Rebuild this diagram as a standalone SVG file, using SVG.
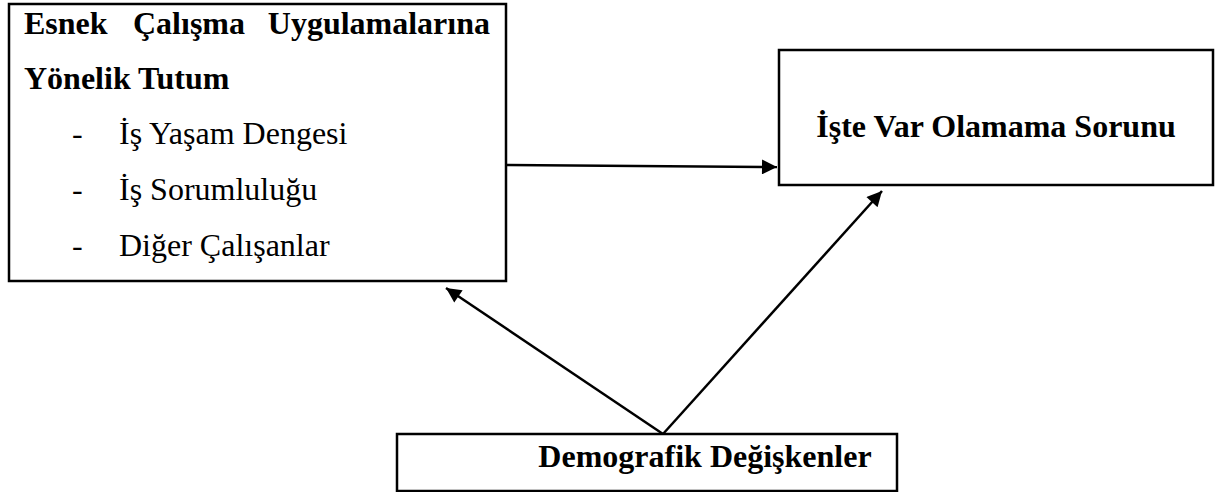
<svg xmlns="http://www.w3.org/2000/svg" width="1224" height="492" viewBox="0 0 1224 492">
<style>
.box{fill:#fff;stroke:#000;stroke-width:2.5}
.b{font-family:"Liberation Serif","Times New Roman",serif;font-weight:bold;font-size:32px;fill:#000}
.r{font-family:"Liberation Serif","Times New Roman",serif;font-size:32px;fill:#000}
.c{stroke:#000;stroke-width:2.5;fill:none}
</style>
<defs>
<marker id="ah" viewBox="0 0 10 10" refX="10" refY="5" markerWidth="7" markerHeight="6" markerUnits="strokeWidth" orient="auto">
<path d="M0,0 L10,5 L0,10 z" fill="#000"/>
</marker>
</defs>
<rect width="1224" height="492" fill="#fff"/>
<g id="node-tutum">
<rect class="box" x="9" y="4" width="497" height="277"/>
<text class="b" x="24" y="34">Esnek</text>
<text class="b" x="133" y="34">Çalışma</text>
<text class="b" x="490" y="34" text-anchor="end">Uygulamalarına</text>
<text class="b" x="24" y="89">Yönelik Tutum</text>
<text class="r" x="72" y="144">-</text>
<text class="r" x="119" y="144">İş Yaşam Dengesi</text>
<text class="r" x="72" y="200">-</text>
<text class="r" x="119" y="200">İş Sorumluluğu</text>
<text class="r" x="72" y="256">-</text>
<text class="r" x="119" y="256">Diğer Çalışanlar</text>
</g>
<g id="node-sorun">
<rect class="box" x="779" y="50" width="434" height="135"/>
<text class="b" x="996" y="137" text-anchor="middle">İşte Var Olamama Sorunu</text>
</g>
<g id="node-demografik">
<rect class="box" x="397" y="434" width="500" height="57"/>
<text class="b" x="705" y="467" text-anchor="middle">Demografik Değişkenler</text>
</g>
<g id="connectors">
<line class="c" x1="506" y1="165" x2="777" y2="167" marker-end="url(#ah)"/>
<line class="c" x1="663" y1="434" x2="446" y2="288" marker-end="url(#ah)"/>
<line class="c" x1="663" y1="434" x2="882" y2="191" marker-end="url(#ah)"/>
</g>
</svg>
